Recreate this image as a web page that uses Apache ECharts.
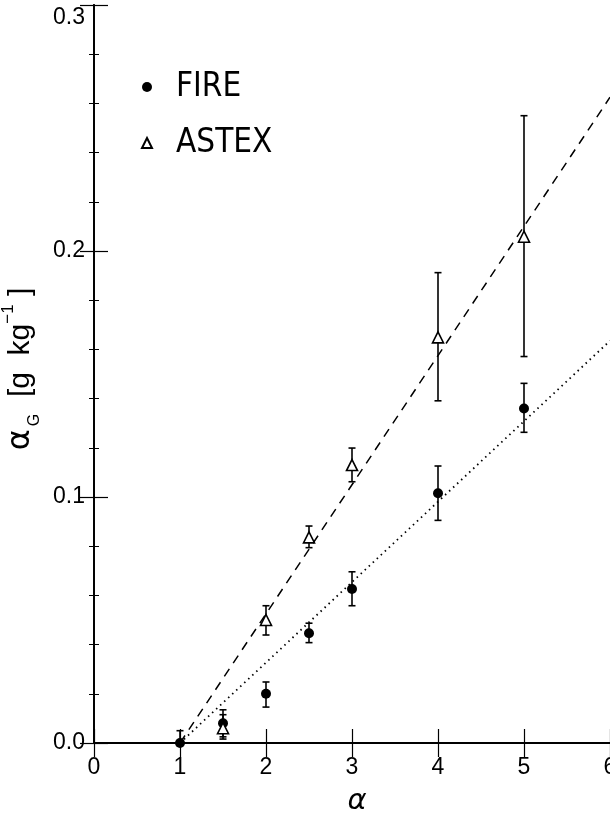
<!DOCTYPE html>
<html>
<head>
<meta charset="utf-8">
<script src="https://cdn.jsdelivr.net/npm/echarts@6/dist/echarts.min.js"></script>
<style>
html,body{margin:0;padding:0;background:#fff;}
#chart{width:610px;height:813px;}
</style>
</head>
<body>
<div id="chart"></div>
<script>
// ---- data ----
var fireX   = [1, 1.5, 2, 2.5, 3, 4, 5];
var fireY   = [0.0, 0.008, 0.020, 0.0446, 0.0626, 0.1015, 0.136];
var fireLo  = [-0.005, 0.0025, 0.0146, 0.0408, 0.0558, 0.0905, 0.1263];
var fireHi  = [0.005, 0.0135, 0.0248, 0.0487, 0.0696, 0.1126, 0.1462];

var astexX  = [1.5, 2, 2.5, 3, 4, 5];
var astexY  = [0.006, 0.050, 0.0836, 0.113, 0.1649, 0.2058];
var astexLo = [0.0016, 0.0439, 0.0794, 0.1062, 0.1391, 0.1571];
var astexHi = [0.0115, 0.0558, 0.0882, 0.1199, 0.1912, 0.2550];

var fitX      = [1, 6];
var fireFit   = [0, 0.1635];
var astexFit  = [0, 0.2625];

var xTicks = [0, 1, 2, 3, 4, 5, 6];
var yTicks = [0.0, 0.1, 0.2, 0.3];

// ---- helpers ----
function zip(xs, ys) { return xs.map(function (x, i) { return [x, ys[i]]; }); }
function zip3(xs, a, b) { return xs.map(function (x, i) { return [x, a[i], b[i]]; }); }

function errRender(params, api) {
  var x = api.value(0), lo = api.value(1), hi = api.value(2);
  var p1 = api.coord([x, lo]), p2 = api.coord([x, hi]);
  var w = 3.5;
  var st = { stroke: '#000', lineWidth: 1.6 };
  return {
    type: 'group',
    children: [
      { type: 'line', shape: { x1: p1[0], y1: p1[1], x2: p2[0], y2: p2[1] }, style: st },
      { type: 'line', shape: { x1: p1[0] - w, y1: p1[1], x2: p1[0] + w, y2: p1[1] }, style: st },
      { type: 'line', shape: { x1: p2[0] - w, y1: p2[1], x2: p2[0] + w, y2: p2[1] }, style: st }
    ]
  };
}

var FONT = "'Liberation Sans', Arial, sans-serif";
var NARROW = "'Liberation Sans Narrow', 'DejaVu Sans Condensed', 'Liberation Sans', sans-serif";

var axisLine = { show: true, lineStyle: { color: '#000', width: 1.8 } };

var chart = echarts.init(document.getElementById('chart'), null, { renderer: 'canvas' });

var option = {
  animation: false,
  backgroundColor: '#fff',
  grid: { left: 94, top: 5, width: 516, height: 738, containLabel: false, outerBoundsMode: 'none' },
  legend: {
    orient: 'vertical',
    left: 136,
    top: 64,
    itemWidth: 10,
    itemHeight: 10,
    itemGap: 20,
    selectedMode: false,
    textStyle: { fontFamily: NARROW, fontSize: 33, color: '#000', lineHeight: 36, padding: [0, 0, 0, 19] },
    data: [
      { name: 'FIRE', icon: 'circle' },
      { name: 'ASTEX', icon: 'triangle' }
    ]
  },
  xAxis: [
    {
      type: 'value', position: 'bottom', min: 0, max: 6, interval: 1,
      axisLine: axisLine,
      axisTick: { show: true, inside: true, length: 14, lineStyle: { color: '#000', width: 1.2 } },
      axisLabel: { show: true, margin: 13, fontFamily: FONT, fontSize: 23, color: '#000',
        formatter: function (v) { return xTicks.indexOf(v) >= 0 ? String(v) : ''; } },
      splitLine: { show: false },
      name: 'α', nameLocation: 'middle', nameGap: 44,
      nameTextStyle: { fontFamily: "'DejaVu Sans', sans-serif", fontStyle: 'italic', fontSize: 29, color: '#000', padding: [0, 0, 0, 10] }
    },
    {
      type: 'value', position: 'top', min: 0, max: 6, interval: 1,
      axisLine: axisLine,
      axisTick: { show: true, inside: true, length: 14, lineStyle: { color: '#000', width: 1.2 } },
      axisLabel: { show: false },
      splitLine: { show: false }
    }
  ],
  yAxis: [
    {
      type: 'value', position: 'left', min: 0, max: 0.3, interval: 0.1,
      axisLine: axisLine,
      axisTick: { show: true, inside: true, length: 14, lineStyle: { color: '#000', width: 1.2 } },
      minorTick: { show: true, splitNumber: 5, length: 5, lineStyle: { color: '#000', width: 1 } },
      axisLabel: { show: true, margin: 9, fontFamily: FONT, fontSize: 23, color: '#000',
        formatter: function (v) {
          var s = v.toFixed(1);
          return Math.abs(v - 0.3) < 1e-9 ? '{top|' + s + '}' : s;
        },
        rich: { top: { fontFamily: FONT, fontSize: 23, color: '#000', padding: [26, 0, 0, 0] } }
      },
      splitLine: { show: false },
      name: '{a|α}{s|G}{t|  [g  kg}{u|−1}{t| ]}',
      nameLocation: 'middle', nameGap: 50, nameRotate: 90,
      nameTextStyle: {
        color: '#000',
        padding: [0, 0, 0, 10],
        rich: {
          a: { fontFamily: "'DejaVu Sans', sans-serif", fontSize: 32, color: '#000', lineHeight: 42, verticalAlign: 'middle' },
          s: { fontFamily: FONT, fontSize: 16, color: '#000', lineHeight: 42, verticalAlign: 'bottom', padding: [0, 0, 0, 3] },
          t: { fontFamily: FONT, fontSize: 30, color: '#000', lineHeight: 42, verticalAlign: 'middle' },
          u: { fontFamily: FONT, fontSize: 17, color: '#000', lineHeight: 42, verticalAlign: 'top' }
        }
      }
    },
    {
      type: 'value', position: 'right', min: 0, max: 0.3, interval: 0.1,
      axisLine: axisLine,
      axisTick: { show: true, inside: true, length: 14, lineStyle: { color: '#000', width: 1.2 } },
      minorTick: { show: true, splitNumber: 5, length: 5, lineStyle: { color: '#000', width: 1 } },
      axisLabel: { show: false },
      splitLine: { show: false }
    }
  ],
  series: [
    {
      name: 'ASTEX fit', type: 'line', data: zip(fitX, astexFit), symbol: 'none',
      lineStyle: { color: '#000', width: 1.5, type: [9, 7] }, silent: true, z: 2
    },
    {
      name: 'FIRE fit', type: 'line', data: zip(fitX, fireFit), symbol: 'none',
      lineStyle: { color: '#000', width: 1.8, type: [1.5, 4] }, silent: true, z: 2
    },
    {
      name: 'FIRE err', type: 'custom', renderItem: errRender, data: zip3(fireX, fireLo, fireHi),
      clip: true, z: 3
    },
    {
      name: 'ASTEX err', type: 'custom', renderItem: errRender, data: zip3(astexX, astexLo, astexHi),
      clip: true, z: 3
    },
    {
      name: 'FIRE', type: 'scatter', data: zip(fireX, fireY), symbol: 'circle', symbolSize: 10,
      itemStyle: { color: '#000', opacity: 1 }, clip: false, z: 4
    },
    {
      name: 'ASTEX', type: 'scatter', data: zip(astexX, astexY), symbol: 'triangle', symbolSize: 11,
      itemStyle: { color: '#fff', borderColor: '#000', borderWidth: 1.6, opacity: 1 }, clip: false, z: 5
    }
  ]
};
chart.setOption(option);
</script>
</body>
</html>
